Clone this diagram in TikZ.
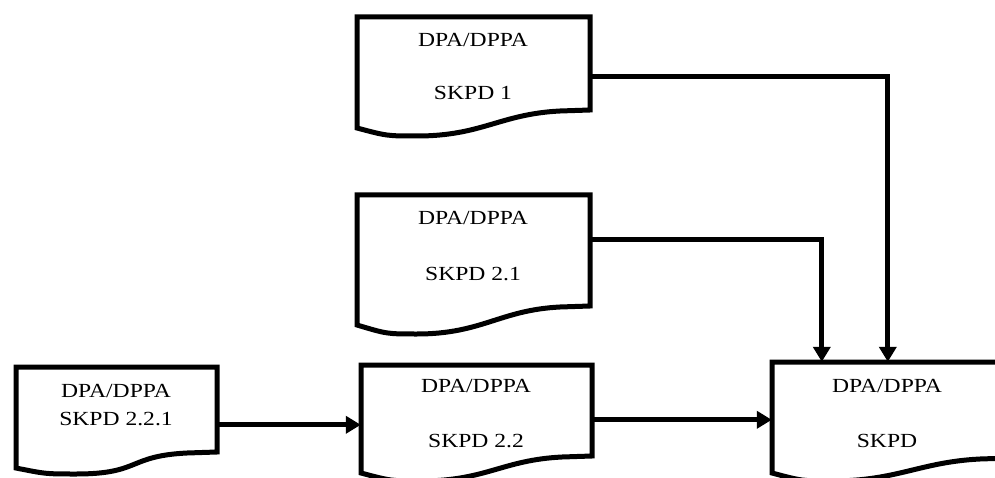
\documentclass[tikz,border=0pt]{standalone}
\usepackage{fontspec}
\setmainfont{Liberation Serif}[FakeStretch=1.18]
\usetikzlibrary{arrows.meta,calc}
\tikzset{
  docline/.style={line width=5pt, line join=miter},
  arr/.style={line width=5pt, -{Triangle[length=15pt,width=17pt]}},
  lbl/.style={anchor=base, inner sep=0pt, font=\fontsize{20}{24}\selectfont},
}
% #1 name, #2 L, #3 T, #4 R, #5 left bottom, #6 right bottom, #7 dip
\newcommand\docbox[7]{%
  \draw[docline] (#2,#3) -- (#4,#3) -- (#4,#6) -- ({#4-30},{#6+1})
    .. controls ({#4-90},{#6+4}) and ({#2+125},#7) .. ({#2+60},#7)
    .. controls ({#2+30},#7) .. (#2,#5) -- cycle;
  \node[name=#1, inner sep=0pt, minimum width={#4-#2}, minimum height={#5-#3}]
    at ({(#2+#4)/2},{(#3+#5)/2}) {};
}
\begin{document}
\begin{tikzpicture}[x=1pt,y=-1pt]
\clip (0,0) rectangle (995,478);
\fill[white] (0,0) rectangle (995,478);

\docbox{b1}{357}{17}{590}{128}{110}{136}
\docbox{b21}{357}{195}{590}{325}{306}{334}
\docbox{b22}{361}{365}{592}{473}{456}{481}
\docbox{b221}{16}{367}{217}{468}{452}{474}
\docbox{sk}{772}{362}{1010}{473}{458}{481}

\node[lbl] (t1a) at (473,47) {DPA/DPPA};
\node[lbl] (t1b) at (473,100) {SKPD 1};
\node[lbl] (t21a) at (473,225) {DPA/DPPA};
\node[lbl] (t21b) at (473,280) {SKPD 2.1};
\node[lbl] (t22a) at (476,392) {DPA/DPPA};
\node[lbl] (t22b) at (476,447) {SKPD 2.2};
\node[lbl] (t221a) at (116,397) {DPA/DPPA};
\node[lbl] (t221b) at (116,425) {SKPD 2.2.1};
\node[lbl] (ska) at (887,392) {DPA/DPPA};
\node[lbl] (skb) at (887,447) {SKPD};

\draw[arr] ($(b1.north east)+(0,60)$) -| ($(sk.north west)+(116,0)$);
\draw[arr] ($(b21.north east)+(0,45)$) -| ($(sk.north west)+(50,0)$);
\draw[arr] ($(b221.north east)+(0,58)$) -- ($(b22.north west)+(0,60)$);
\draw[arr] ($(b22.north east)+(0,55)$) -- ($(sk.north west)+(0,58)$);
\end{tikzpicture}
\end{document}
